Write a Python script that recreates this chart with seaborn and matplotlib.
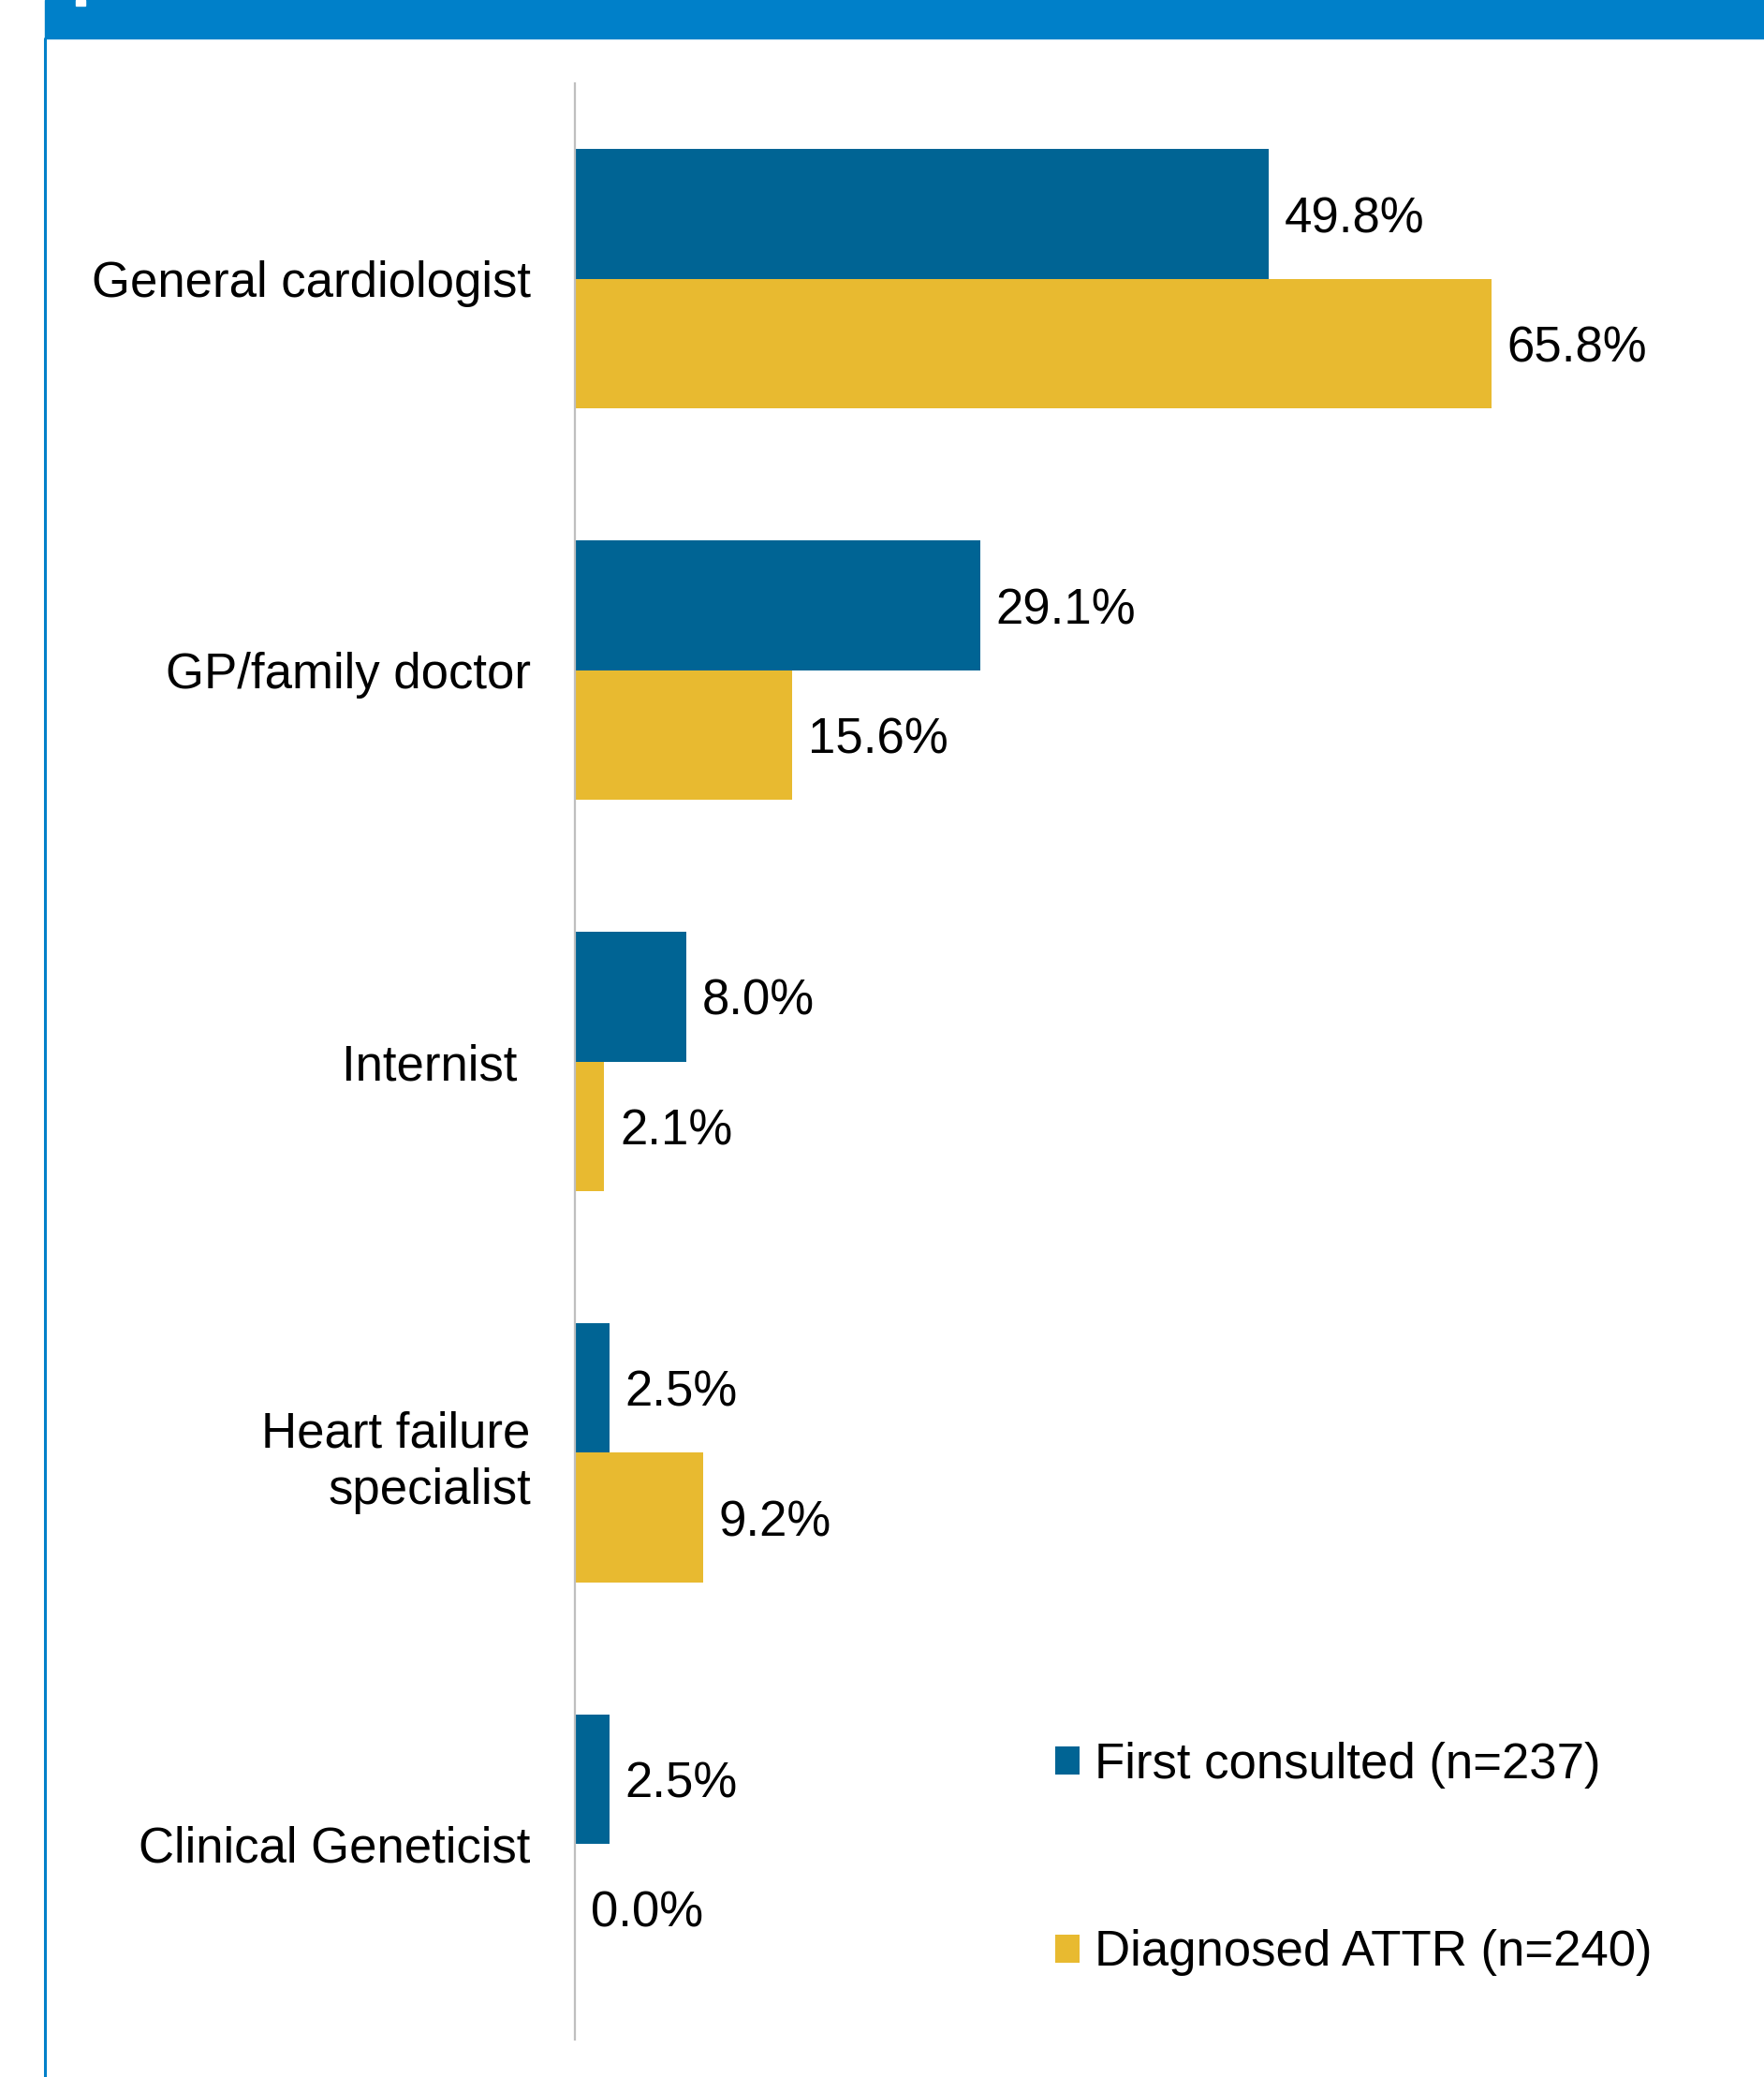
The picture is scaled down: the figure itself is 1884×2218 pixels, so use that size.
import matplotlib
matplotlib.use("Agg")
import matplotlib.pyplot as plt
from matplotlib.patches import Rectangle
from matplotlib.lines import Line2D
import numpy as np
import pandas as pd
import seaborn as sns

# data
roles = ["General cardiologist", "GP/family doctor", "Internist ",
         "Heart failure\nspecialist", "Clinical Geneticist"]
first_consulted = [49.8, 29.1, 8.0, 2.5, 2.5]
diagnosed_attr = [65.8, 15.6, 2.1, 9.2, 0.0]
series_names = ["First consulted (n=237)", "Diagnosed ATTR (n=240)"]
colors = ["#006494", "#E8BA30"]

df = pd.DataFrame({"role": roles,
                   series_names[0]: first_consulted,
                   series_names[1]: diagnosed_attr})
long = df.melt(id_vars="role", var_name="series", value_name="pct")

sns.set_style("white")
plt.rcParams["font.family"] = ["Liberation Sans", "DejaVu Sans"]
plt.rcParams["text.color"] = "black"
plt.rcParams["ytick.color"] = "black"

W, H = 1884, 2218
fig = plt.figure(figsize=(W / 100, H / 100), dpi=100)
ax = fig.add_axes([614 / W, 40 / H, 1 - 614 / W, 2089 / H])

sns.barplot(data=long, y="role", x="pct", hue="series", order=roles,
            hue_order=series_names, palette=colors, width=0.663,
            orient="h", saturation=1, linewidth=0, ax=ax)

for cont in ax.containers:
    for t in ax.bar_label(cont, fmt="%.1f%%", padding=12, fontsize=38,
                          color="black"):
        t.xyann = (12, -4)

ax.set_xlim(0, (W - 614) / 14.88)
ax.set_ylim(4.5, -0.5)
ax.set_xlabel("")
ax.set_ylabel("")
ax.set_xticks([])
ax.tick_params(axis="y", length=0, pad=34, labelsize=38, labelcolor="black")
for lbl in ax.get_yticklabels():
    lbl.set_linespacing(1.27)
    if "\n" in lbl.get_text():
        lbl.set_y(lbl.get_position()[1] - 0.02)
for s in ["top", "right", "bottom"]:
    ax.spines[s].set_visible(False)
ax.spines["left"].set_color("#BFBFBF")
ax.spines["left"].set_linewidth(1.6)

handles, labels = ax.get_legend_handles_labels()
ax.get_legend().remove()
fig.legend(handles, labels, loc="upper left",
           bbox_to_anchor=(1127 / W, 1 - 1860 / H), frameon=False,
           fontsize=38, handlelength=0.5, handleheight=0.5,
           handletextpad=0.3, labelspacing=2.85, borderpad=0,
           borderaxespad=0)

# blue banner and left border
fig.patches.append(Rectangle((48 / W, 1 - 41 / H), 1 - 48 / W, 41 / H,
                             transform=fig.transFigure, color="#0080C9",
                             zorder=0))
fig.patches.append(Rectangle((81 / W, 1 - 6 / H), 10 / W, 6 / H,
                             transform=fig.transFigure, color="white",
                             zorder=1))
fig.lines.append(Line2D([48 / W, 48 / W], [0, 1 - 41 / H],
                        transform=fig.transFigure, color="#0080C9",
                        linewidth=2.2))

fig.savefig("out.png", dpi=100)
